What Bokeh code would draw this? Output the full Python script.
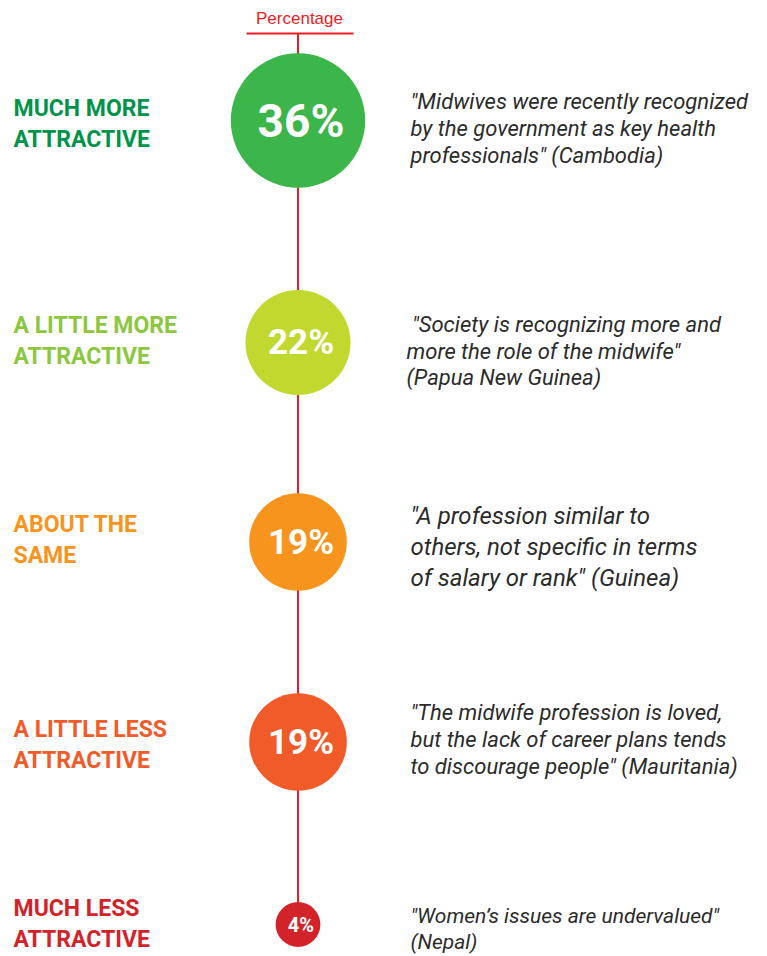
from bokeh.plotting import figure
from bokeh.models import Range1d, ColumnDataSource
from bokeh.embed import file_html
from bokeh.resources import INLINE
from bokeh.core.properties import value
import math

# ---------------- data ----------------
categories = [
    ["MUCH MORE", "ATTRACTIVE"],
    ["A LITTLE MORE", "ATTRACTIVE"],
    ["ABOUT THE", "SAME"],
    ["A LITTLE LESS", "ATTRACTIVE"],
    ["MUCH LESS", "ATTRACTIVE"],
]
percentages = [36, 22, 19, 19, 4]
pct_labels = ["36%", "22%", "19%", "19%", "4%"]
quotes = [
    ["\"Midwives were recently recognized", "by the government as key health", "professionals\" (Cambodia)"],
    ["\u00a0\"Society is recognizing more and", "more the role of the midwife\"", "(Papua New Guinea)"],
    ["\"A profession similar to", "others, not specific in terms", "of salary or rank\" (Guinea)"],
    ["\"The midwife profession is loved,", "but the lack of career plans tends", "to discourage people\" (Mauritania)"],
    ["\"Women\u2019s issues are undervalued\"", "(Nepal)"],
]
title = "Percentage"

# ---------------- styles / layout ----------------
circle_colors = ["#3CB54A", "#C1D82F", "#F7941D", "#F15A29", "#D2232A"]
label_colors = ["#00934A", "#8DC63F", "#F7941D", "#F15A29", "#D2232A"]
red = "#ED1C24"
row_y = [120, 342, 541.5, 741.5, 924]
label_base = [116, 333, 532, 737, 916]
label_gap = 31
quote_base = [109, 332, 524, 720, 923]
quote_gap = [27, 26.5, 31, 27, 26]
quote_x = [410, 406, 410, 410, 410]
quote_fs = [22, 22, 24, 22, 21]
pct_font = [46, 35, 35, 35, 20]
label_fs = 23
title_fs = 17
BL = 0.36  # renderer drops 'alphabetic' text by ~0.36 em; compensate
cx = 297.5
W, H = 767, 956

p = figure(width=W, height=H, output_backend="svg", toolbar_location=None,
           x_range=Range1d(0, W), y_range=Range1d(H, 0),
           min_border=0, outline_line_color=None)
p.axis.visible = False
p.grid.visible = False
p.background_fill_color = "white"

# title and connector lines
p.text(x=[cx + 1.5], y=[24 - BL * title_fs], text=[title],
       text_font=value("Liberation Sans"),
       text_font_size=f"{title_fs}px", text_color=red, text_align="center",
       text_baseline="alphabetic")
p.segment(x0=[246], y0=[33], x1=[353], y1=[33], line_color=red, line_width=2)
p.segment(x0=[cx], y0=[33], x1=[cx], y1=[row_y[-1]], line_color=red, line_width=2)

# circles (area proportional to percentage)
radii = [11.2 * math.sqrt(v) for v in percentages]
src = ColumnDataSource(dict(x=[cx] * len(percentages), y=row_y, r=radii,
                            c=circle_colors))
p.circle(x="x", y="y", radius="r", fill_color="c", line_color=None, source=src)

for i, lab in enumerate(pct_labels):
    p.text(x=[cx + 3], y=[row_y[i]],
           text=[lab],
           text_font=value("Roboto"), text_font_style="bold",
           text_font_size=f"{pct_font[i]}px", text_color="white",
           text_align="center", text_baseline="alphabetic")

# category labels
for i, lines in enumerate(categories):
    ys = [label_base[i] + k * label_gap - BL * label_fs for k in range(len(lines))]
    p.text(x=[13] * len(lines), y=ys, text=lines,
           text_font=value("Roboto"), text_font_style="bold",
           text_font_size=f"{label_fs}px", text_color=label_colors[i],
           text_align="left", text_baseline="alphabetic")

# quotes
for i, lines in enumerate(quotes):
    fs = quote_fs[i]
    ys = [quote_base[i] + k * quote_gap[i] - BL * fs for k in range(len(lines))]
    p.text(x=[quote_x[i]] * len(lines), y=ys, text=lines,
           text_font=value("Roboto"), text_font_style="italic",
           text_font_size=f"{fs}px", text_color="#2B2B2B",
           text_align="left", text_baseline="alphabetic")

open("out.html", "w").write(file_html(p, INLINE))
